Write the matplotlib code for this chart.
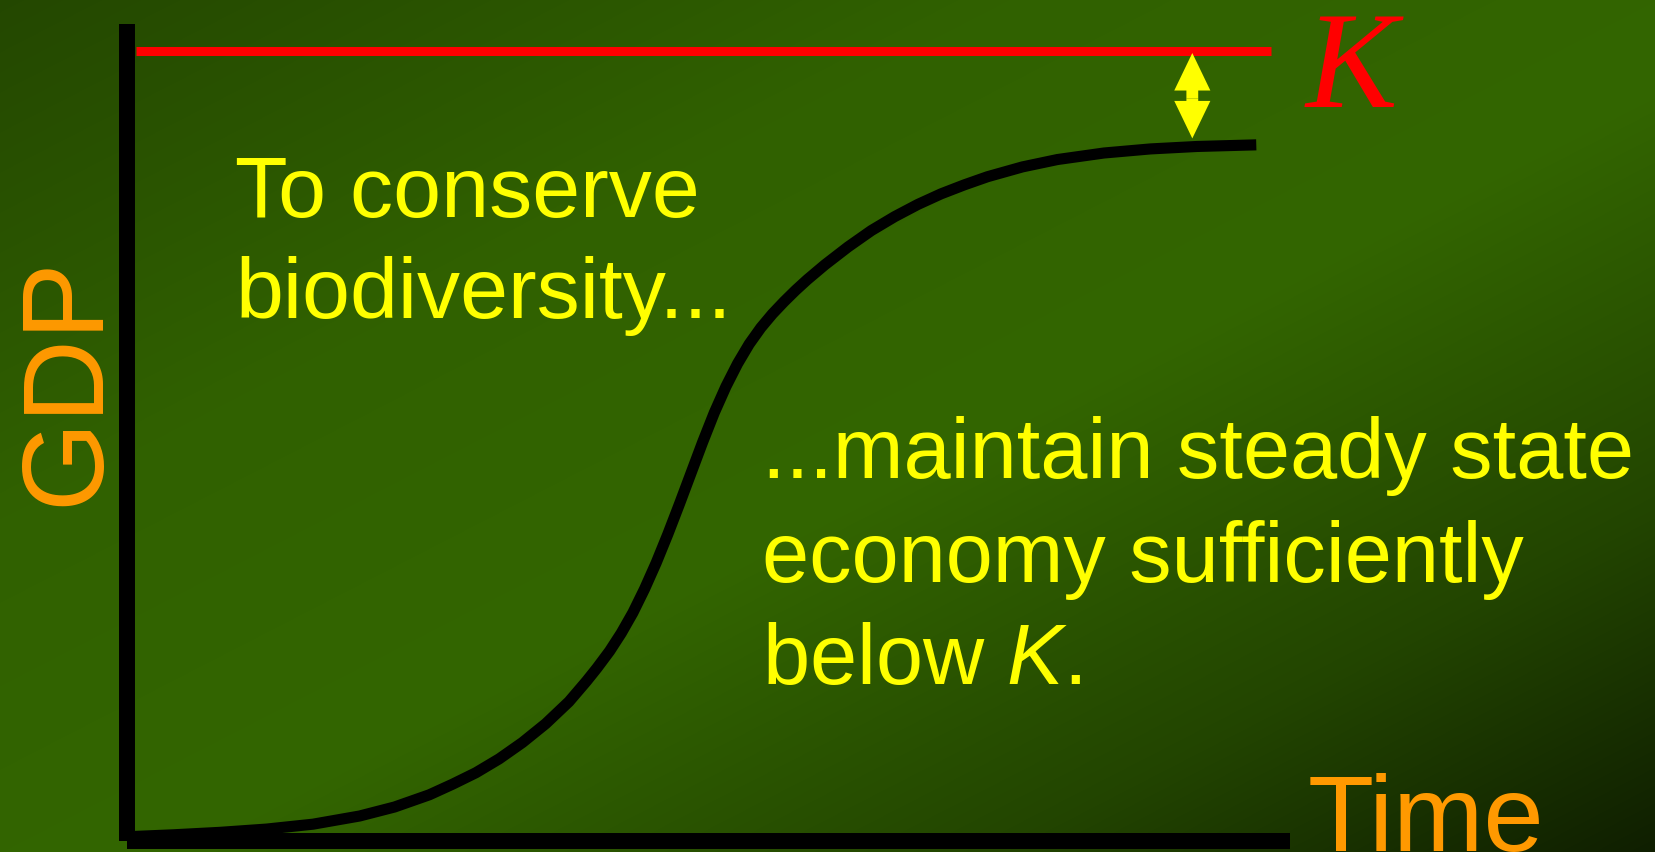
import numpy as np
import matplotlib
matplotlib.use("Agg")
import matplotlib.pyplot as plt

plt.rcParams["font.family"] = ["Liberation Sans", "DejaVu Sans"]
plt.rcParams["mathtext.fontset"] = "custom"
plt.rcParams["mathtext.rm"] = "Liberation Sans"
plt.rcParams["mathtext.it"] = "Liberation Sans:italic"

# S-shaped growth of GDP over time (arbitrary units, 0-100 on both axes)
time = [0.7, 4, 8, 12, 16, 20, 23, 26, 28, 30, 32, 34, 36, 38, 39.5, 40.4,
        41.5, 42.5, 43.5, 44.5, 45.5, 46.5, 47.5, 48.5, 49.5, 50.5, 51.5,
        52.5, 53.5, 54.5, 55.5, 56.5, 57.5, 58.5, 60, 62, 64, 66, 68, 70,
        72, 74, 77, 80, 84, 88, 92, 97.1]
gdp = [0.5, 0.7, 1.0, 1.4, 2.0, 3.0, 4.1, 5.6, 6.9, 8.3, 10.0, 12.0, 14.3,
       17.0, 19.5, 21.1, 23.2, 25.4, 27.9, 30.8, 34.0, 37.5, 41.2, 45.0,
       48.8, 52.4, 55.6, 58.4, 60.8, 62.8, 64.5, 66.0, 67.4, 68.7, 70.5,
       72.7, 74.7, 76.4, 77.9, 79.2, 80.3, 81.3, 82.5, 83.4, 84.2, 84.7,
       85.0, 85.2]

K = 96.75          # carrying capacity
K_start, K_end = 0.75, 98.4
gap_time = 91.6    # where the gap below K is marked
gap_gdp = 85.0

left_lines = ["To conserve", "biodiversity..."]
left_base = [76.4, 64.0]
right_lines = ["...maintain steady state", "economy sufficiently", "below $K$."]
right_base = [44.4, 31.7, 19.2]

yellow = "#FFFF00"
orange = "#FF9900"
red = "#FF0000"

W, H = 1655, 852
fig = plt.figure(figsize=(W / 100, H / 100), dpi=100)

# diagonal green backdrop on its own axes behind everything
yy, xx = np.mgrid[0:1:H * 1j, 0:1:W * 1j]
u = (xx + yy) / 2
g = np.interp(u, [0.0, 0.3, 0.55, 0.8, 1.0], [0.28, 0.38, 0.40, 0.27, 0.12])
bg = np.dstack([g / 2, g, np.zeros_like(g)])
bg_ax = fig.add_axes([0, 0, 1, 1], zorder=0)
bg_ax.imshow(bg, aspect="auto", interpolation="bilinear")
bg_ax.axis("off")

ax = fig.add_axes([127 / W, 11.5 / H, 1163 / W, 816.5 / H], zorder=1)
ax.set_facecolor("none")
ax.set_xlim(0, 100)
ax.set_ylim(0, 100)
for side in ["top", "right"]:
    ax.spines[side].set_visible(False)
for side in ["left", "bottom"]:
    ax.spines[side].set_linewidth(11.5)
    ax.spines[side].set_color("black")
    ax.spines[side].set_capstyle("butt")
    ax.spines[side].set_zorder(4)
ax.set_xticks([])
ax.set_yticks([])

# K line and growth curve
ax.hlines(K, K_start, K_end, color=red, lw=6.5, zorder=3)
ax.plot(time, gdp, color="black", lw=8, solid_capstyle="butt",
        solid_joinstyle="round", zorder=3, clip_on=False)

# double arrow for the gap between the curve and K
mid = (K + gap_gdp) / 2
style = "simple,head_length=2.7,head_width=2.6,tail_width=0.85"
ax.annotate("", xy=(gap_time, K), xytext=(gap_time, mid),
            arrowprops=dict(arrowstyle=style, fc=yellow, ec="none",
                            shrinkA=0, shrinkB=1.8, mutation_scale=10))
ax.annotate("", xy=(gap_time, gap_gdp), xytext=(gap_time, mid),
            arrowprops=dict(arrowstyle=style, fc=yellow, ec="none",
                            shrinkA=0, shrinkB=5.8, mutation_scale=10))

ax.text(101.3, 89.8, "K", color=red, fontsize=99, style="italic",
        family="Liberation Serif", ha="left", va="baseline", clip_on=False)

for line, base in zip(left_lines, left_base):
    ax.text(9.3, base, line, color=yellow, fontsize=62, ha="left",
            va="baseline", clip_on=False)
for line, base in zip(right_lines, right_base):
    ax.text(54.6, base, line, color=yellow, fontsize=61, ha="left",
            va="baseline", clip_on=False)

# axis titles
ax.text(-2.5, 56.3, "GDP", color=orange, fontsize=83, rotation=90,
        rotation_mode="anchor", ha="center", va="baseline", clip_on=False)
ax.text(101.5, -1.3, "Time", color=orange, fontsize=78, ha="left",
        va="baseline", clip_on=False)

fig.savefig("out.png", dpi=100)
